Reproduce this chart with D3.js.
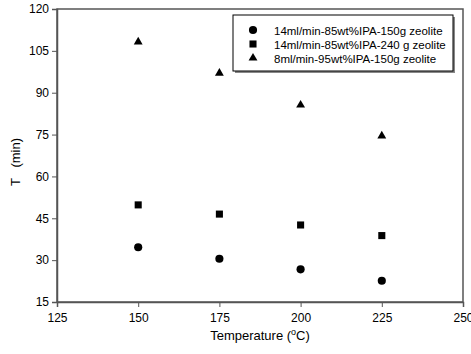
<!DOCTYPE html>
<html><head><meta charset="utf-8">
<script src="https://cdn.jsdelivr.net/npm/d3@7"></script>
<style>body{margin:0;background:#fff}svg{display:block;font-family:"Liberation Sans",Arial,sans-serif}</style>
</head><body><svg id="c" width="471" height="354"></svg>
<script>
const temps = [150, 175, 200, 225];
const series1 = [34.6, 30.5, 26.7, 22.6];   // 14ml/min-85wt%IPA-150g zeolite
const series2 = [49.8, 46.5, 42.6, 38.8];   // 14ml/min-85wt%IPA-240 g zeolite
const series3 = [108.2, 97.0, 85.6, 74.5];  // 8ml/min-95wt%IPA-150g zeolite
const seriesNames = ["14ml/min-85wt%IPA-150g zeolite", "14ml/min-85wt%IPA-240 g zeolite", "8ml/min-95wt%IPA-150g zeolite"];
const xTicks = [125, 150, 175, 200, 225, 250];
const yTicks = [15, 30, 45, 60, 75, 90, 105, 120];

const svg = d3.select("#c");
const L = 57, R = 463, T = 9, B = 302;
const x = d3.scaleLinear().domain([125, 250]).range([L, R]);
const y = d3.scaleLinear().domain([15, 120]).range([B, T]);
const frameColor = "#555";

svg.append("rect").attr("x", L).attr("y", T).attr("width", R - L).attr("height", B - T)
  .attr("fill", "none").attr("stroke", frameColor).attr("stroke-width", 1.5);

const xa = svg.append("g").attr("transform", `translate(0,${B})`)
  .call(d3.axisBottom(x).tickValues(xTicks).tickSize(5).tickPadding(6).tickFormat(d3.format("d")));
const ya = svg.append("g").attr("transform", `translate(${L},0)`)
  .call(d3.axisLeft(y).tickValues(yTicks).tickSize(5).tickPadding(3).tickFormat(d3.format("d")));
[xa, ya].forEach(a => {
  a.select(".domain").attr("stroke", frameColor).attr("stroke-width", 1.5);
  a.selectAll(".tick line").attr("stroke", frameColor).attr("stroke-width", 1);
  a.selectAll("text").attr("font-size", 12).attr("fill", "#000")
    .attr("font-family", "Liberation Sans, Arial, sans-serif");
});

const symbols = [d3.symbolCircle, d3.symbolSquare, d3.symbolTriangle];
const sizes = [52, 50, 34];
const data = [series1, series2, series3];
data.forEach((vals, i) => {
  svg.append("g").selectAll("path").data(vals).join("path")
    .attr("d", d3.symbol().type(symbols[i]).size(sizes[i]))
    .attr("transform", (d, j) => `translate(${x(temps[j])},${y(d)})`)
    .attr("fill", "#000");
});

const lg = svg.append("g");
lg.append("rect").attr("x", 235).attr("y", 17).attr("width", 220).attr("height", 56).attr("fill", "#888");
lg.append("rect").attr("x", 233).attr("y", 15).attr("width", 220).attr("height", 56)
  .attr("fill", "#fff").attr("stroke", "#000").attr("stroke-width", 1);
seriesNames.forEach((n, i) => {
  const yy = 30 + i * 14;
  lg.append("path").attr("d", d3.symbol().type(symbols[i]).size(sizes[i]))
    .attr("transform", `translate(253,${yy})`).attr("fill", "#000");
  lg.append("text").attr("x", 274).attr("y", yy + 4.5).attr("font-size", 11.5).text(n);
});

const xt = svg.append("text").attr("x", 260).attr("y", 340).attr("text-anchor", "middle").attr("font-size", 13);
xt.append("tspan").text("Temperature (");
xt.append("tspan").attr("dy", -5).attr("font-size", 9).text("o");
xt.append("tspan").attr("dy", 5).text("C)");

svg.append("text").attr("transform", "translate(20,162) rotate(-90)")
  .attr("text-anchor", "middle").attr("font-size", 13).attr("xml:space", "preserve").text("T   (min)");
</script></body></html>
